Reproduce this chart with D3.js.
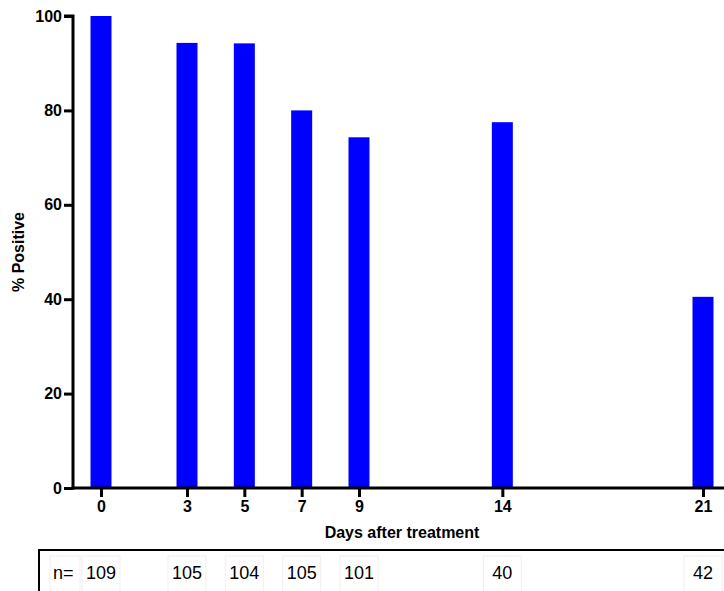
<!DOCTYPE html>
<html>
<head>
<meta charset="utf-8">
<script src="https://cdn.jsdelivr.net/npm/d3@7"></script>
<style>
  body { margin: 0; background: #fff; }
  text { font-family: "Liberation Sans", Arial, sans-serif; }
</style>
</head>
<body>
<div id="chart"></div>
<script>
// data
const days = [0, 3, 5, 7, 9, 14, 21];
const positive = [100, 94.3, 94.2, 80.0, 74.3, 77.5, 40.5];
const counts = [109, 105, 104, 105, 101, 40, 42];
const yTicks = [0, 20, 40, 60, 80, 100];

const width = 724, height = 591;

const svg = d3.select("#chart")
  .append("svg")
  .attr("width", width)
  .attr("height", height);

// scales
const x = d3.scaleLinear().domain([0, 21]).range([101, 703]);
const y = d3.scaleLinear().domain([0, 100]).range([488, 16]);
const barW = 21;

// bars
svg.selectAll("rect.bar")
  .data(days)
  .join("rect")
  .attr("class", "bar")
  .attr("x", d => x(d) - barW / 2)
  .attr("y", (d, i) => y(positive[i]))
  .attr("width", barW)
  .attr("height", (d, i) => y(0) - y(positive[i]))
  .attr("fill", "#0000ff");

// y axis
const yAxis = svg.append("g")
  .attr("transform", "translate(73,0)")
  .call(d3.axisLeft(y).tickValues(yTicks).tickSize(9).tickPadding(2));
yAxis.select(".domain").attr("stroke-width", 3).attr("d", `M-9,${y(100)}H0V${y(0) + 1.5}`);
yAxis.selectAll(".tick line").attr("stroke-width", 3);
yAxis.selectAll(".tick text")
  .attr("font-size", 16).attr("font-weight", "bold").attr("fill", "#000")
  .attr("font-family", "Liberation Sans, Arial, sans-serif");

// x axis
const xAxis = svg.append("g")
  .attr("transform", `translate(0,${y(0)})`)
  .call(d3.axisBottom(x).tickValues(days).tickSize(9).tickPadding(4));
xAxis.select(".domain").attr("stroke-width", 3).attr("d", `M71.5,0H${width}`);
xAxis.selectAll(".tick line").attr("stroke-width", 3);
xAxis.selectAll(".tick text")
  .attr("font-size", 16).attr("font-weight", "bold").attr("fill", "#000")
  .attr("font-family", "Liberation Sans, Arial, sans-serif");

// axis titles
svg.append("text")
  .attr("x", 402).attr("y", 538)
  .attr("text-anchor", "middle")
  .attr("font-size", 16).attr("font-weight", "bold")
  .text("Days after treatment");

svg.append("text")
  .attr("transform", `translate(24,${(y(0) + y(100)) / 2}) rotate(-90)`)
  .attr("text-anchor", "middle")
  .attr("font-size", 16).attr("font-weight", "bold")
  .text("% Positive");

// n table
svg.append("path")
  .attr("d", `M39,${height}V550H${width}`)
  .attr("fill", "none")
  .attr("stroke", "#000")
  .attr("stroke-width", 2);

const cells = svg.selectAll("g.cell")
  .data(days)
  .join("g")
  .attr("class", "cell");
cells.append("rect")
  .attr("x", d => x(d) - 19).attr("y", 556)
  .attr("width", 38).attr("height", 40)
  .attr("fill", "none").attr("stroke", "#f0f0f0");
cells.append("text")
  .attr("x", d => x(d)).attr("y", 579)
  .attr("text-anchor", "middle")
  .attr("font-size", 18)
  .text((d, i) => counts[i]);

svg.append("rect")
  .attr("x", 50).attr("y", 556).attr("width", 30).attr("height", 40)
  .attr("fill", "none").attr("stroke", "#f0f0f0");
svg.append("text")
  .attr("x", 53).attr("y", 579)
  .attr("font-size", 18)
  .text("n=");
</script>
</body>
</html>
